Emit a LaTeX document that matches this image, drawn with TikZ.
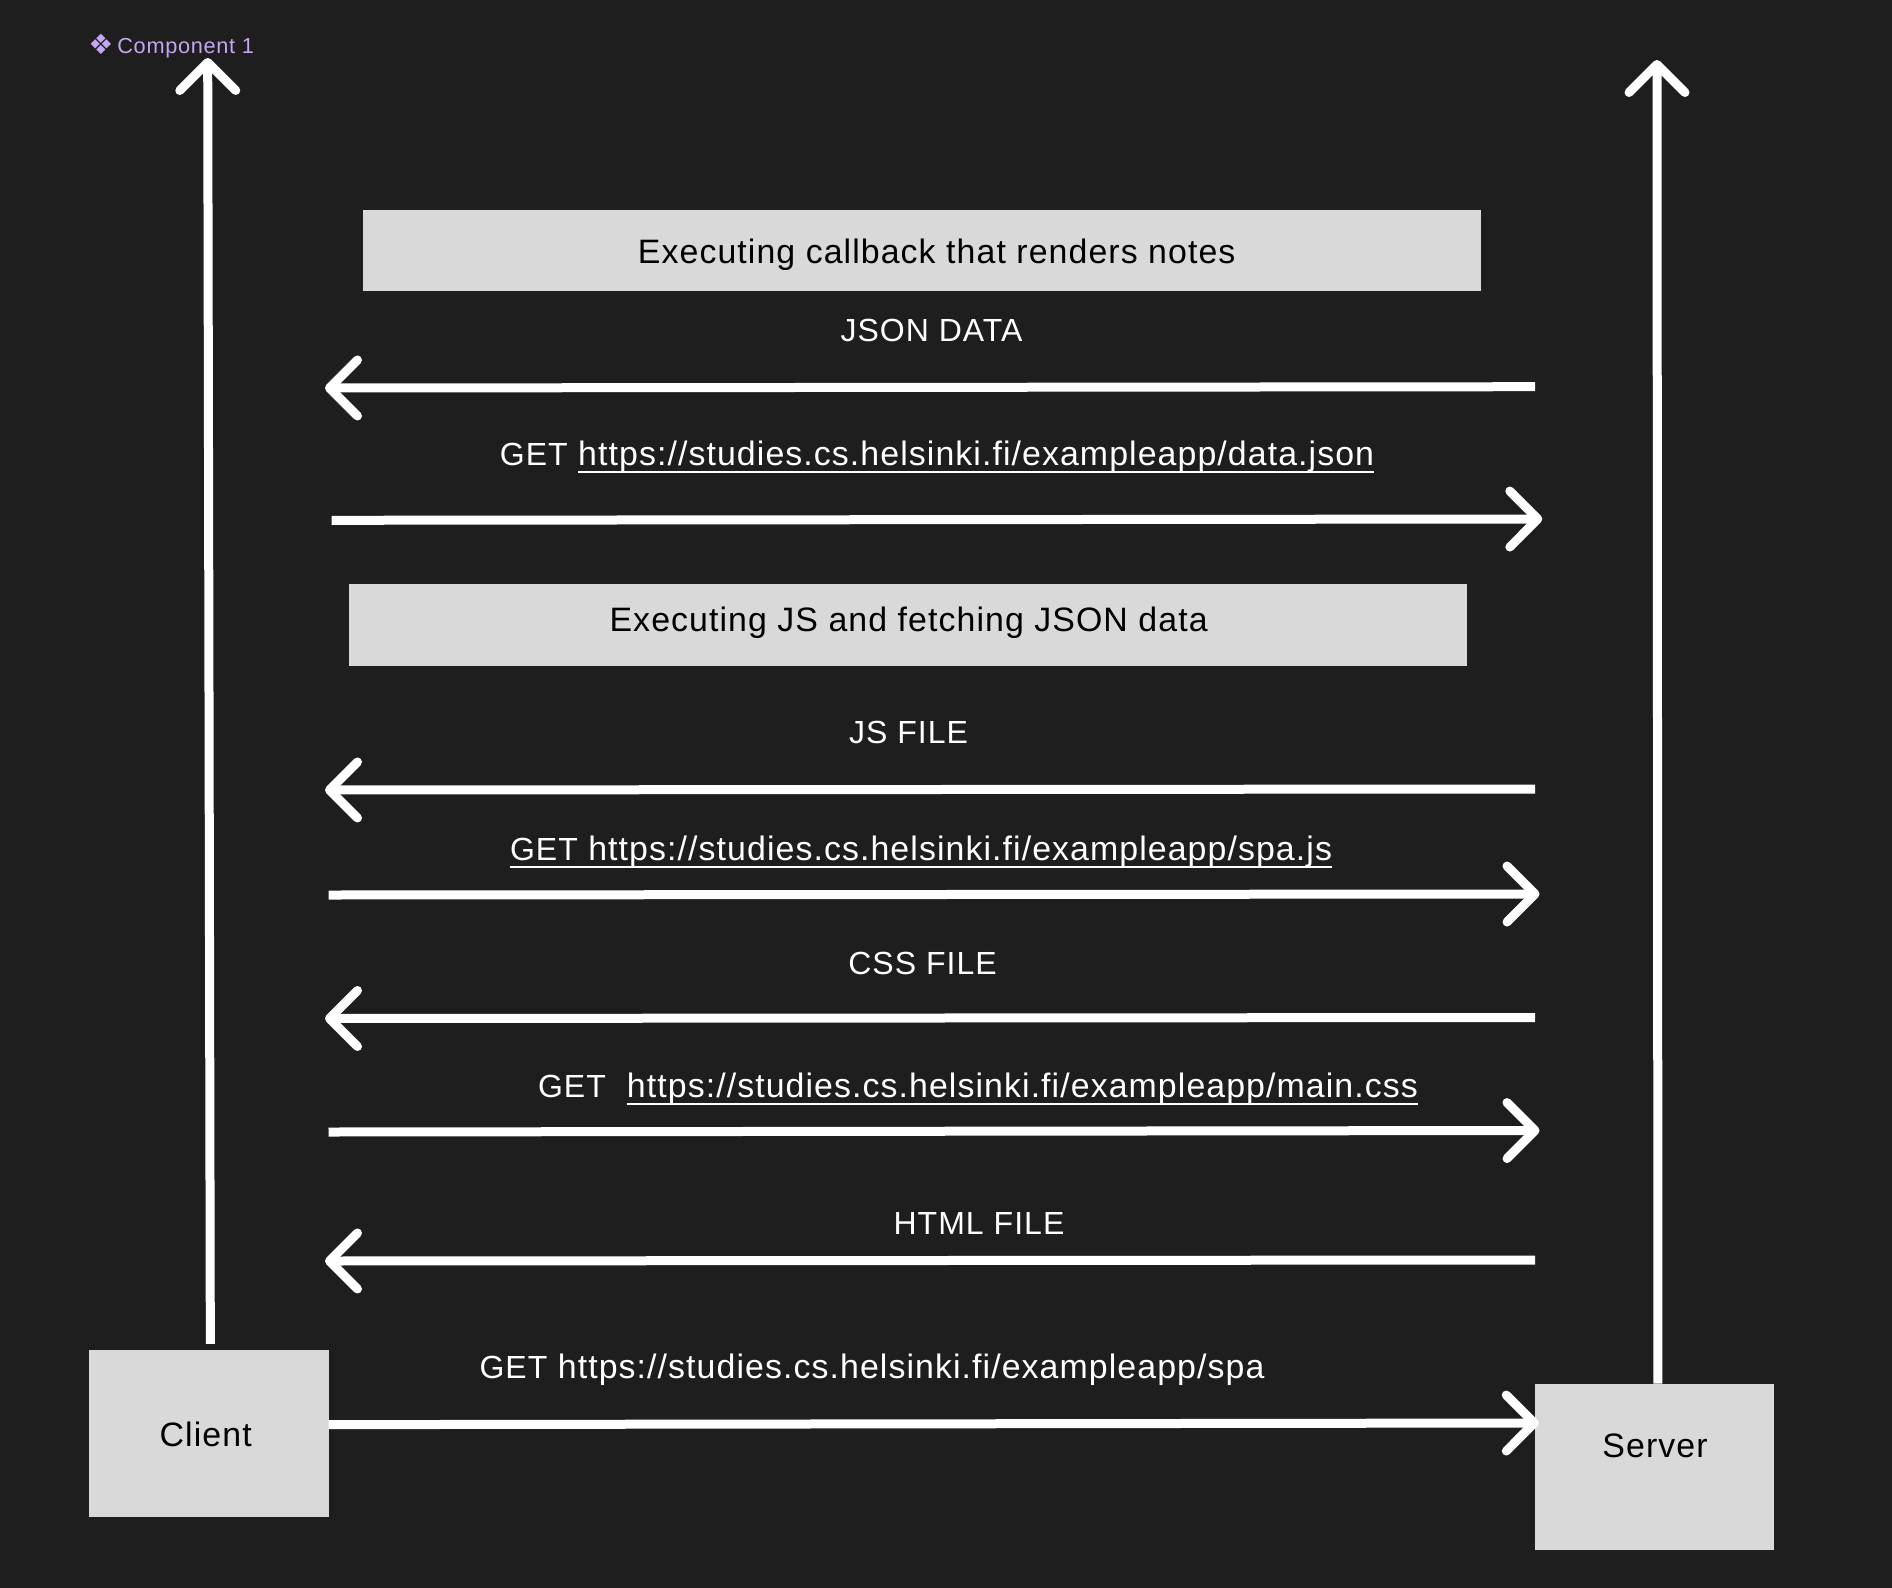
\documentclass[tikz,border=0pt]{standalone}
\usepackage{fontspec}
\usepackage{xcolor}
\setmainfont{Liberation Sans}[LetterSpace=3.2]
\newfontfamily\symfont{DejaVu Sans}
\usetikzlibrary{positioning,arrows.meta}
\definecolor{bgdark}{HTML}{1E1E1E}
\definecolor{boxgrey}{HTML}{D9D9D9}
\definecolor{compviolet}{HTML}{C4A6F2}
\newcommand{\urlul}[1]{\sbox0{#1}\rlap{\usebox0}\rule[-6pt]{\wd0}{1.3pt}}
\newcommand{\getword}{{\fontsize{24}{28}\selectfont GET}}
\tikzset{
	greybox/.style={fill=boxgrey,draw=none,inner sep=0pt,outer sep=0pt},
	flow/.style={draw=white,line width=6.75pt,-{Straight Barb[length=21pt,width=42pt,round]}},
	boxtext/.style={anchor=base,inner sep=0pt,text=black,font=\fontsize{25.4}{28}\selectfont},
	msgtext/.style={anchor=base,inner sep=0pt,text=white,font=\fontsize{24}{28}\selectfont},
	urltext/.style={anchor=base,inner sep=0pt,text=white,font=\fontsize{25.4}{28}\selectfont}
}

\begin{document}
\begin{tikzpicture}[x=0.75pt,y=-0.75pt]
\useasboundingbox (0,0) rectangle (1892,1588);
\fill[bgdark] (0,0) rectangle (1892,1588);

%Boites
\node[greybox,minimum width=179.6pt,minimum height=125pt] (client) at (209,1433.3) {};
\node[greybox,minimum width=179.6pt,minimum height=125pt] (server) at (1654.5,1467) {};
\node[greybox,minimum width=838.5pt,minimum height=60.75pt] (callback) at (922,250.5) {};
\node[greybox,minimum width=838.5pt,minimum height=61.5pt] (jsexec) at (908,625) {};

%Textes des boites
\node[boxtext] (clientlabel) at (205.7,1446) {Client};
\node[boxtext] (serverlabel) at (1655,1457) {Server};
\node[boxtext] (callbacklabel) at (936.7,263) {Executing callback that renders notes};
\node[boxtext] (jsexeclabel) at (908.6,631) {Executing JS and fetching JSON data};

%Extremites des fleches
\coordinate (clientTop) at (207.7,58);
\coordinate (serverTop) at (1657,60);
\coordinate (jsonA) at (1535,386.7);
\coordinate (jsonB) at (325,388);
\coordinate (getdataA) at (331.7,520.3);
\coordinate (getdataB) at (1542.3,519);
\coordinate (jsA) at (1535,789);
\coordinate (jsB) at (325,790);
\coordinate (getjsA) at (328.5,895);
\coordinate (getjsB) at (1539.5,894);
\coordinate (cssA) at (1535,1017.5);
\coordinate (cssB) at (325,1018.5);
\coordinate (getcssA) at (328.5,1132);
\coordinate (getcssB) at (1539.5,1130.5);
\coordinate (htmlA) at (1535,1260);
\coordinate (htmlB) at (325,1261);

%Lignes de vie
\draw[flow] ([xshift=1pt,yshift=4.5pt]client.north) -- (clientTop);
\draw[flow] ([xshift=2.6pt]server.north) -- (serverTop);

%Messages
\draw[flow] (jsonA) -- (jsonB);
\draw[flow] (getdataA) -- (getdataB);
\draw[flow] (jsA) -- (jsB);
\draw[flow] (getjsA) -- (getjsB);
\draw[flow] (cssA) -- (cssB);
\draw[flow] (getcssA) -- (getcssB);
\draw[flow] (htmlA) -- (htmlB);
\draw[flow] ([yshift=6.5pt]client.east) -- ([xshift=3pt,yshift=33pt]server.west);

%Textes des messages
\node[msgtext] (jsonlabel) at (931.5,341) {JSON DATA};
\node[urltext] (getdatalabel) at (937,465) {\getword\ \urlul{https://studies.cs.helsinki.fi/exampleapp/data.json}};
\node[msgtext] (jslabel) at (908.6,743) {JS FILE};
\node[urltext] (getjslabel) at (921,860) {\urlul{\getword\ https://studies.cs.helsinki.fi/exampleapp/spa.js}};
\node[msgtext] (csslabel) at (922.5,974) {CSS FILE};
\node[urltext] (getcsslabel) at (978,1097) {\getword\ \ \urlul{https://studies.cs.helsinki.fi/exampleapp/main.css}};
\node[msgtext] (htmllabel) at (979,1234) {HTML FILE};
\node[urltext] (getspalabel) at (872,1378) {\getword\ https://studies.cs.helsinki.fi/exampleapp/spa};

\node[anchor=base west,inner sep=0pt,text=compviolet,font=\fontsize{16.3}{18}\selectfont] (component) at (88,53) {\raisebox{-1.2pt}{\symfont\fontsize{21}{21}\selectfont ❖}\hspace{3pt}Component 1};

\end{tikzpicture}
\end{document}
